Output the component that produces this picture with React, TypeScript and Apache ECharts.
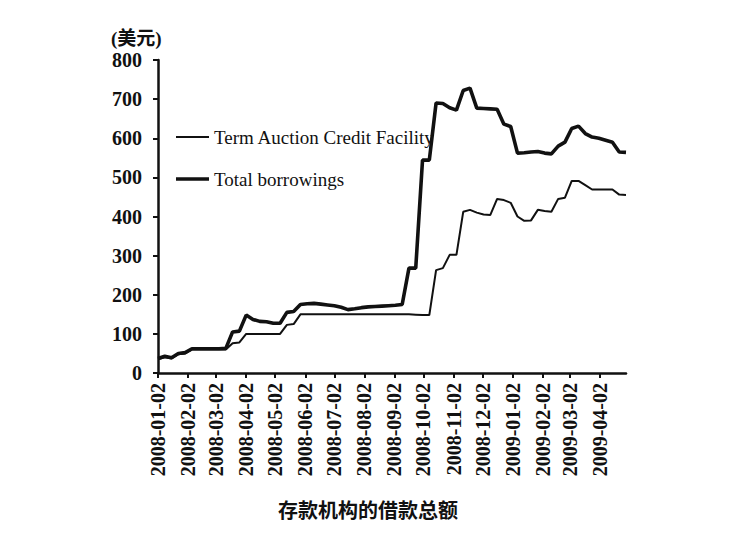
import React, { useEffect, useRef } from "react";
import * as echarts from "echarts";

const START = "2008-01-02";

// weekly reporting dates (Wednesdays)
const weekDates: string[] = [
  "2008-01-02","2008-01-09","2008-01-16","2008-01-23","2008-01-30",
  "2008-02-06","2008-02-13","2008-02-20","2008-02-27","2008-03-05",
  "2008-03-12","2008-03-19","2008-03-26","2008-04-02","2008-04-09",
  "2008-04-16","2008-04-23","2008-04-30","2008-05-07","2008-05-14",
  "2008-05-21","2008-05-28","2008-06-04","2008-06-11","2008-06-18",
  "2008-06-25","2008-07-02","2008-07-09","2008-07-16","2008-07-23",
  "2008-07-30","2008-08-06","2008-08-13","2008-08-20","2008-08-27",
  "2008-09-03","2008-09-10","2008-09-17","2008-09-24","2008-10-01",
  "2008-10-08","2008-10-15","2008-10-22","2008-10-29","2008-11-05",
  "2008-11-12","2008-11-19","2008-11-26","2008-12-03","2008-12-10",
  "2008-12-17","2008-12-24","2008-12-31","2009-01-07","2009-01-14",
  "2009-01-21","2009-01-28","2009-02-04","2009-02-11","2009-02-18",
  "2009-02-25","2009-03-04","2009-03-11","2009-03-18","2009-03-25",
  "2009-04-01","2009-04-08","2009-04-15","2009-04-22","2009-04-29",
];

const tafValues: number[] = [
  35, 40, 37, 48, 50, 60, 60, 60, 60, 60,
  60, 76, 78, 100, 100, 100, 100, 100, 100, 123,
  125, 150, 150, 150, 150, 150, 150, 150, 150, 150,
  150, 150, 150, 150, 150, 150, 150, 150, 149, 148,
  148, 263, 268, 302, 302, 412, 417, 410, 405, 404,
  445, 442, 435, 400, 389, 390, 417, 414, 412, 445,
  448, 491, 491, 480, 469, 469, 469, 469, 456, 455,
];

const totalValues: number[] = [
  37, 43, 39, 50, 52, 62, 62, 62, 62, 62,
  63, 105, 107, 148, 137, 132, 131, 127, 127, 155,
  157, 175, 177, 178, 176, 174, 172, 168, 162, 164,
  167, 169, 170, 171, 172, 173, 175, 268, 268, 544,
  544, 690, 689, 678, 672, 722, 728, 677, 676, 675,
  674, 636, 630, 562, 563, 565, 566, 562, 560, 580,
  590, 625, 631, 612, 603, 600, 595, 590, 565, 564,
];

const tickDates: string[] = [
  "2008-01-02","2008-02-02","2008-03-02","2008-04-02","2008-05-02",
  "2008-06-02","2008-07-02","2008-08-02","2008-09-02","2008-10-02",
  "2008-11-02","2008-12-02","2009-01-02","2009-02-02","2009-03-02",
  "2009-04-02",
];

const seriesNames: string[] = ["Term Auction Credit Facility", "Total borrowings"];
const yUnit = "(美元)";
const chartTitle = "存款机构的借款总额";

const toUTC = (s: string) => {
  const [y, m, d] = s.split("-").map(Number);
  return Date.UTC(y, m - 1, d);
};
const dayOf = (s: string) => Math.round((toUTC(s) - toUTC(START)) / 86400000);
const pad = (n: number) => (n < 10 ? "0" + n : "" + n);
const dateOfDay = (day: number) => {
  const dt = new Date(toUTC(START) + day * 86400000);
  return `${dt.getUTCFullYear()}-${pad(dt.getUTCMonth() + 1)}-${pad(dt.getUTCDate())}`;
};

export default function App() {
  const ref = useRef<HTMLDivElement>(null);
  useEffect(() => {
    if (!ref.current) return;
    const chart = echarts.init(ref.current, undefined, { renderer: "svg" });
    const tickDays = tickDates.map(dayOf);
    const lastDay = dayOf(weekDates[weekDates.length - 1]);
    const serif = "'Liberation Serif', 'Times New Roman', serif";
    const thinW = 2;
    const thickW = 3.6;
    const legendBase = {
      orient: "vertical",
      left: 171,
      itemWidth: 33,
      icon: "rect",
      textStyle: {
        fontFamily: serif,
        fontSize: 19,
        color: "#111",
        lineHeight: 20,
      },
    };
    chart.setOption({
      animation: false,
      backgroundColor: "#ffffff",
      title: {
        text: chartTitle,
        left: "center",
        top: 494,
        textStyle: {
          fontFamily: "'Noto Sans CJK SC', sans-serif",
          fontSize: 20,
          fontWeight: "bold",
          color: "#111",
        },
      },
      graphic: [
        {
          type: "text",
          left: 111,
          top: 29,
          style: {
            text: yUnit,
            font: "bold 19px 'Liberation Serif', 'Noto Sans CJK SC', serif",
            fill: "#111",
          },
        },
      ],
      legend: [
        {
          ...legendBase,
          top: 122,
          itemHeight: thinW,
          data: [seriesNames[0]],
        },
        {
          ...legendBase,
          top: 164,
          itemHeight: thickW,
          data: [seriesNames[1]],
        },
      ],
      grid: { left: 158, top: 60, right: 110, bottom: 175, containLabel: false },
      xAxis: {
        type: "value",
        min: 0,
        max: lastDay,
        splitLine: { show: false },
        axisLine: { lineStyle: { color: "#111", width: 2.5 } },
        axisTick: {
          customValues: tickDays,
          length: 5,
          lineStyle: { color: "#111", width: 2 },
        },
        axisLabel: {
          customValues: tickDays,
          rotate: 90,
          margin: 10,
          fontFamily: serif,
          fontWeight: "bold",
          fontSize: 20,
          color: "#111",
          formatter: (v: number) => dateOfDay(v),
        },
      },
      yAxis: {
        type: "value",
        min: 0,
        max: 800,
        interval: 100,
        splitLine: { show: false },
        axisLine: { show: true, lineStyle: { color: "#111", width: 2.5 } },
        axisTick: { show: true, length: 5, lineStyle: { color: "#111", width: 2 } },
        axisLabel: {
          margin: 16,
          fontFamily: serif,
          fontWeight: "bold",
          fontSize: 20,
          color: "#111",
        },
      },
      series: [
        {
          name: seriesNames[0],
          type: "line",
          symbol: "none",
          data: weekDates.map((d, i) => [dayOf(d), tafValues[i]]),
          lineStyle: { color: "#111", width: thinW },
          itemStyle: { color: "#111" },
          z: 3,
        },
        {
          name: seriesNames[1],
          type: "line",
          symbol: "none",
          data: weekDates.map((d, i) => [dayOf(d), totalValues[i]]),
          lineStyle: { color: "#111", width: thickW },
          itemStyle: { color: "#111" },
          z: 2,
        },
      ],
    });
    return () => chart.dispose();
  }, []);
  return (
    <div
      ref={ref}
      style={{ position: "fixed", left: 0, top: 0, width: 736, height: 548, background: "#fff" }}
    />
  );
}
